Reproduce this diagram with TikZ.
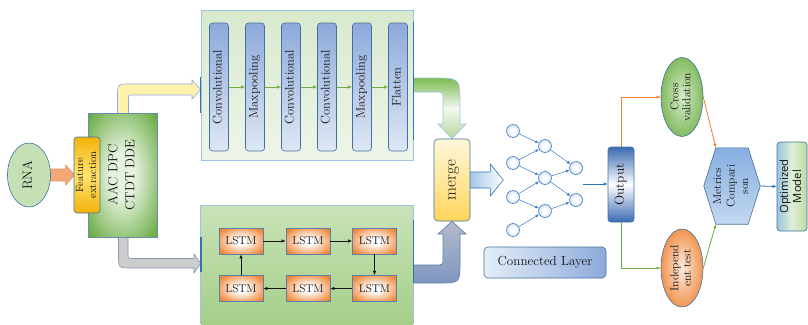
\documentclass[tikz,border=0pt]{standalone}
\usepackage{graphicx}
\usepackage{fontspec}
\newfontfamily\osans{Open Sans}
\usetikzlibrary{shapes.geometric,arrows.meta,calc,backgrounds}
\definecolor{txt}{HTML}{141414}
\definecolor{bdr}{HTML}{41719C}
\definecolor{panelb}{HTML}{9DC3E6}
\definecolor{edgeb}{HTML}{2E75B6}
\definecolor{convtop}{HTML}{8EAADB}
\definecolor{convbot}{HTML}{DEE7F5}
\definecolor{cnntop}{HTML}{D8E9CD}
\definecolor{cnnbot}{HTML}{EEF5E9}
\definecolor{lptop}{HTML}{C9E3B8}
\definecolor{lpbot}{HTML}{A5CE88}
\definecolor{lstmo}{HTML}{EF8535}
\definecolor{lstmb}{HTML}{5B7FA8}
\definecolor{aacin}{HTML}{E6F2DF}
\definecolor{aacout}{HTML}{6AAC42}
\definecolor{featO}{HTML}{F4B20C}
\definecolor{featY}{HTML}{FFE46E}
\definecolor{rnafill}{HTML}{C5E0B4}
\definecolor{mergetop}{HTML}{FFF7DC}
\definecolor{mergebot}{HTML}{FFD65A}
\definecolor{nnfill}{HTML}{B4D0EC}
\definecolor{nnline}{HTML}{3C7DC4}
\definecolor{outblue}{HTML}{3A69B2}
\definecolor{cvin}{HTML}{D6EBC8}
\definecolor{cvout}{HTML}{72B24D}
\definecolor{itin}{HTML}{FDEBDF}
\definecolor{itout}{HTML}{EF8434}
\definecolor{hextop}{HTML}{86AEE0}
\definecolor{hexbot}{HTML}{C3D8F0}
\definecolor{omL}{HTML}{9CC4DE}
\definecolor{omM}{HTML}{E0EFD6}
\definecolor{omR}{HTML}{B8DBA4}
\definecolor{clL}{HTML}{E4EEF9}
\definecolor{clR}{HTML}{8EAADB}
\definecolor{oarrF}{HTML}{F2A877}
\definecolor{oarrD}{HTML}{E39660}
\definecolor{yarrF}{HTML}{FFF3AE}
\definecolor{yarrD}{HTML}{8FAADC}
\definecolor{garrF}{HTML}{CDCDCD}
\definecolor{garrD}{HTML}{8497B0}
\definecolor{grnD}{HTML}{7DBB52}
\definecolor{grnM}{HTML}{F2F8EE}
\definecolor{grnH}{HTML}{B5D89C}
\definecolor{bgA}{HTML}{7F97C2}
\definecolor{bgB}{HTML}{B2BAC7}
\definecolor{orline}{HTML}{ED7D31}
\definecolor{grline}{HTML}{70AD47}
\pgfdeclareradialshading{aacshade}{\pgfpoint{0bp}{0bp}}{color(0bp)=(aacin); color(9bp)=(aacin); color(34bp)=(aacout); color(70bp)=(aacout)}
\pgfdeclareradialshading{lstmshade}{\pgfpoint{0bp}{0bp}}{color(0bp)=(white); color(7bp)=(white); color(31bp)=(lstmo); color(70bp)=(lstmo)}
\pgfdeclareradialshading{cvshade}{\pgfpoint{0bp}{0bp}}{color(0bp)=(cvin); color(30bp)=(cvout); color(70bp)=(cvout)}
\pgfdeclareradialshading{itshade}{\pgfpoint{0bp}{0bp}}{color(0bp)=(itin); color(30bp)=(itout); color(70bp)=(itout)}
\pgfdeclareradialshading{nnshade}{\pgfpoint{0bp}{0bp}}{color(0bp)=(white); color(10bp)=(white); color(36bp)=(nnfill); color(70bp)=(nnfill)}
\newcommand{\vtxt}[1]{\rotatebox{90}{\begin{tabular}{@{}c@{}}#1\end{tabular}}}
\tikzset{
  every node/.style={inner sep=0pt, text=txt},
  panelbox/.style={draw=panelb, line width=0.7pt},
  edgeseg/.style={draw=edgeb, line width=1.4pt},
  convbox/.style={draw=bdr, rounded corners=3pt, top color=convtop, bottom color=convbot,
    minimum width=19pt, minimum height=128pt, line width=0.6pt, font=\fontsize{12.5}{13}\selectfont},
  lstmbox/.style={draw=lstmb, shading=lstmshade, minimum width=44pt,
    minimum height=26pt, line width=0.6pt, font=\fontsize{11.3}{12}\selectfont},
  neuron/.style={circle, draw=nnline, shading=nnshade, minimum size=13pt, line width=0.6pt},
  thinarr/.style={-{Latex[length=4pt,width=3.2pt]}, line width=0.6pt},
  blockarr/.style={line width=0.6pt},
}
\begin{document}
\begin{tikzpicture}[x=1pt,y=-1pt]
\useasboundingbox (0,0) rectangle (808,324);

% ---- panels
\node[panelbox, top color=cnntop, bottom color=cnnbot, minimum width=212pt, minimum height=150pt] (cnn) at (307,85) {};
\node[top color=lptop, bottom color=lpbot, minimum width=212pt, minimum height=118pt] (lp) at (307,265) {};
\draw[panelbox] (lp.south west) -- (lp.north west) -- (lp.north east) -- (lp.south east);
\draw[edgeseg] ($(cnn.west)+(0,-8)$) -- ($(cnn.west)+(0,28)$);
\draw[edgeseg] ($(cnn.east)+(0,-63)$) -- ($(cnn.east)+(0,55)$);
\draw[edgeseg] ($(lp.west)+(0,-28)$) -- ($(lp.west)+(0,7)$);
\draw[edgeseg] ($(lp.east)+(0,-45)$) -- ($(lp.east)+(0,18)$);

% ---- CNN blocks
\node[convbox] (c1) at (219,87) {\vtxt{Convolutional}};
\node[convbox] (c2) at (255,87) {\vtxt{Maxpooling}};
\node[convbox] (c3) at (291,87) {\vtxt{Convolutional}};
\node[convbox] (c4) at (327,87) {\vtxt{Convolutional}};
\node[convbox] (c5) at (362,87) {\vtxt{Maxpooling}};
\node[convbox] (c6) at (398,87) {\vtxt{Flatten}};
\foreach \a/\b in {c1/c2,c2/c3,c3/c4,c4/c5,c5/c6}
  \draw[thinarr, grline] (\a.east) -- (\b.west);

% ---- LSTM blocks
\node[lstmbox] (l1) at (241,241) {LSTM};
\node[lstmbox] (l2) at (308,241) {LSTM};
\node[lstmbox] (l3) at (374.5,241) {LSTM};
\node[lstmbox] (l4) at (374.5,288.5) {LSTM};
\node[lstmbox] (l5) at (308,288.5) {LSTM};
\node[lstmbox] (l6) at (241,288.5) {LSTM};
\draw[thinarr, txt] (l1.east) -- (l2.west);
\draw[thinarr, txt] (l2.east) -- (l3.west);
\draw[thinarr, txt] (l3.south) -- (l4.north);
\draw[thinarr, txt] (l4.west) -- (l5.east);
\draw[thinarr, txt] (l5.west) -- (l6.east);
\draw[thinarr, txt] (l6.north) -- (l1.south);

% ---- input side
\node[ellipse, draw=bdr, fill=rnafill, minimum width=43pt, minimum height=64pt, line width=0.6pt,
  font=\fontsize{13.4}{14}\selectfont] (rna) at (29,175) {\vtxt{RNA}};
\node[draw=bdr!80, shading=aacshade, minimum width=69pt, minimum height=124pt, line width=0.6pt,
  font=\fontsize{13.3}{17}\selectfont] (aac) at (122.5,175) {\vtxt{AAC DPC\\CTDT DDE}};
\node[draw=bdr, rounded corners=3pt, top color=featO, bottom color=featO, middle color=featY,
  minimum width=26pt, minimum height=76pt, line width=0.6pt,
  font=\fontsize{10.5}{13}\selectfont] (feat) at (87,175) {\vtxt{Feature\\extraction}};

% ---- merge
\node[draw=bdr, rounded corners=4pt, top color=mergetop, bottom color=mergebot,
  minimum width=36pt, minimum height=82pt, line width=0.6pt,
  font=\fontsize{16.8}{18}\selectfont] (merge) at (452,180) {\vtxt{merge}};

% ---- neural net
\node[neuron] (n11) at (513,131) {};
\node[neuron] (n12) at (513,163) {};
\node[neuron] (n13) at (513,197) {};
\node[neuron] (n14) at (513,230) {};
\node[neuron] (n21) at (545,146) {};
\node[neuron] (n22) at (545,178) {};
\node[neuron] (n23) at (545,211) {};
\node[neuron] (n31) at (576,168) {};
\node[neuron] (n32) at (576,200) {};
\foreach \a/\b in {n11/n21,n12/n21,n12/n22,n13/n22,n13/n23,n14/n23,n21/n31,n22/n31,n22/n32,n23/n32}
  \draw[-{Latex[length=3.6pt,width=3pt]}, line width=0.5pt, nnline] (\a) -- (\b);
\node[draw=bdr, rounded corners=4pt, left color=clL, right color=clR, minimum width=122pt, minimum height=31pt,
  line width=0.6pt, font=\fontsize{13.1}{14}\selectfont] (cl) at (545,262.5) {Connected Layer};

% ---- output side
\node[draw=bdr, rounded corners=3pt, top color=outblue, bottom color=outblue, middle color=white,
  minimum width=26pt, minimum height=75pt, line width=0.6pt,
  font=\fontsize{13.3}{14}\selectfont] (out) at (621,184.5) {\vtxt{Output}};
\coordinate (nnout) at ($(n31)!0.5!(n32)+(7,0)$);
\draw[thinarr, edgeb] (nnout) -- (nnout -| out.west);
\node[ellipse, draw=bdr, shading=cvshade, minimum width=42pt, minimum height=79pt,
  line width=0.6pt, font=\fontsize{11.5}{12}\selectfont] (cv) at (682,97) {\vtxt{Cross\\validation}};
\node[ellipse, draw=bdr, shading=itshade, minimum width=42pt, minimum height=78pt,
  line width=0.6pt, font=\fontsize{11.7}{12.5}\selectfont] (it) at (682,268) {\vtxt{Independ\\ent test}};
\node[minimum width=56pt, minimum height=76pt, font=\fontsize{11.5}{13.5}\selectfont] (hex) at (732,186)
  {\vtxt{Metrics\\Compari\\son}};
\node[draw=bdr, rounded corners=3pt, left color=omL, right color=omR, middle color=omM,
  minimum width=30pt, minimum height=89pt, line width=0.6pt,
  font=\osans\fontsize{11.3}{13}\selectfont] (om) at (792,186.5) {\vtxt{Optimized\\Model}};
\draw[thinarr, orline, line width=0.8pt] (out.north) |- (cv.west);
\draw[thinarr, grline, line width=0.8pt] (out.south) |- (it.west);
\draw[thinarr, orline, line width=0.8pt] (cv.east) -- ($(hex.north west)+(12,0)$);
\draw[thinarr, grline, line width=0.8pt] (it.east) -- ($(hex.south west)+(12,0)$);
\draw[thinarr, edgeb, line width=0.8pt] (hex.east) -- (om.west);

% ---- background: hexagon and block arrows
\begin{pgfonlayer}{background}
\path[draw=bdr, line width=0.6pt, top color=hextop, bottom color=hexbot]
  (hex.west) -- ($(hex.north west)+(12,0)$) -- ($(hex.north east)+(-12,0)$) -- (hex.east)
  -- ($(hex.south east)+(-12,0)$) -- ($(hex.south west)+(12,0)$) -- cycle;
% RNA -> feature extraction
\path[blockarr, draw=oarrD, fill=oarrF]
  ($(rna.east)+(-2,-6)$) -- ($(feat.west)+(-8,-6)$) -- ($(feat.west)+(-8,-10)$) -- ($(feat.west)+(1,0)$)
  -- ($(feat.west)+(-8,10)$) -- ($(feat.west)+(-8,6)$) -- ($(rna.east)+(-2,6)$) -- cycle;
% features -> CNN panel
\path[blockarr, draw=yarrD, fill=yarrF]
  (117.5,114) -- (117.5,97) .. controls (117.5,84) .. (130.5,84) -- (192,84) -- (192,80)
  -- ($(cnn.west)+(0,4.5)$) -- (192,99) -- (192,95) -- (133,95) .. controls (128.5,95) .. (128.5,99.5)
  -- (128.5,114) -- cycle;
% features -> LSTM panel
\path[blockarr, draw=garrD, fill=garrF]
  (118.5,236) -- (118.5,255) .. controls (118.5,268) .. (131.5,268) -- (194,268) -- (194,273)
  -- ($(lp.west)+(0,-1.5)$) -- (194,254) -- (194,258.5) -- (133,258.5) .. controls (128,258.5) .. (128,253.5)
  -- (128,236) -- cycle;
% CNN -> merge
\path[blockarr, draw=panelb, top color=grnD, bottom color=grnH, middle color=grnM]
  (412,78) -- (433,78) .. controls (460,78) .. (460,104) -- (460,124) -- (466,124) -- (merge.north)
  -- (438,124) -- (443,124) -- (443,100) .. controls (443,92) .. (435,92) -- (412,92) -- cycle;
% LSTM -> merge
\path[blockarr, draw=lstmb, bottom color=bgA, top color=bgB]
  (412,265) -- (435,265) .. controls (443,265) .. (443,257) -- (443,234) -- (438,234) -- (merge.south)
  -- (466,234) -- (460,234) -- (460,262) .. controls (460,283) .. (439,283) -- (412,283) -- cycle;
% merge -> network
\path[blockarr, draw=edgeb, left color=panelb, right color=white]
  ($(merge.east)+(-2,-8)$) -- ($(merge.east)+(20,-8)$) -- ($(merge.east)+(20,-16)$) -- ($(merge.east)+(33,0)$)
  -- ($(merge.east)+(20,16)$) -- ($(merge.east)+(20,8)$) -- ($(merge.east)+(-2,8)$) -- cycle;
\end{pgfonlayer}
\end{tikzpicture}
\end{document}
